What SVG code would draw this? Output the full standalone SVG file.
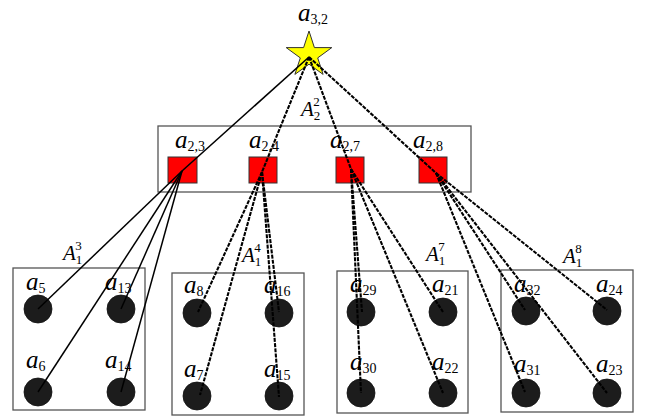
<svg xmlns="http://www.w3.org/2000/svg" width="647" height="418" viewBox="0 0 647 418">
<style>
.box{fill:none;stroke:#555;stroke-width:1.3}
.sq{fill:#ff0000;stroke:#333;stroke-width:1}
.dot{fill:#1c1c1c;stroke:#111;stroke-width:0.8}
.lbl{font-family:"Liberation Serif","Times New Roman",serif;font-style:italic;font-size:25px;fill:#000}
.sub{font-style:normal;font-size:14px}
.cap{font-family:"Liberation Serif","Times New Roman",serif;font-style:italic;font-size:21px;fill:#000}
.sm{font-style:normal;font-size:13px}
.solid{stroke:#000;stroke-width:1.5;fill:none}
.dash{stroke:#000;stroke-width:2.1;stroke-dasharray:4 1.2;fill:none}
</style>
<rect width="647" height="418" fill="#fff"/>
<g id="group-top">
<rect class="box" x="158" y="126" width="313" height="66"/>
<text class="cap" x="301" y="116">A<tspan class="sm" dy="4">2</tspan><tspan class="sm" dx="-7" dy="-14">2</tspan></text>
</g>
<g id="group-A13"><rect class="box" x="13" y="268" width="132" height="142"/>
<text class="cap" x="63" y="260">A<tspan class="sm" dy="4">1</tspan><tspan class="sm" dx="-7" dy="-14">3</tspan></text></g>
<g id="group-A14"><rect class="box" x="172" y="273" width="132" height="142"/>
<text class="cap" x="242" y="262">A<tspan class="sm" dy="4">1</tspan><tspan class="sm" dx="-7" dy="-14">4</tspan></text></g>
<g id="group-A17"><rect class="box" x="337" y="271" width="131" height="142"/>
<text class="cap" x="426" y="261">A<tspan class="sm" dy="4">1</tspan><tspan class="sm" dx="-7" dy="-14">7</tspan></text></g>
<g id="group-A18"><rect class="box" x="501" y="270" width="132" height="142"/>
<text class="cap" x="563" y="263">A<tspan class="sm" dy="4">1</tspan><tspan class="sm" dx="-7" dy="-14">8</tspan></text></g>

<g id="a32node">
<polygon points="309,31 314.4,47.6 331.8,47.6 317.7,57.9 323.1,74.4 309,64.2 294.9,74.4 300.3,57.9 286.2,47.6 303.6,47.6" fill="#ffff00" stroke="#333" stroke-width="1"/>
<text class="lbl" x="298" y="21">a<tspan class="sub" dy="3">3,2</tspan></text>
</g>

<g id="a23node"><rect class="sq" x="168" y="157" width="29" height="26"/><text class="lbl" x="175" y="148">a<tspan class="sub" dy="3">2,3</tspan></text></g>
<g id="a24node"><rect class="sq" x="249" y="157" width="28" height="26"/><text class="lbl" x="249" y="148">a<tspan class="sub" dy="3">2,4</tspan></text></g>
<g id="a27node"><rect class="sq" x="336" y="157" width="28" height="26"/><text class="lbl" x="330" y="148">a<tspan class="sub" dy="3">2,7</tspan></text></g>
<g id="a28node"><rect class="sq" x="419" y="157" width="28" height="26"/><text class="lbl" x="413" y="148">a<tspan class="sub" dy="3">2,8</tspan></text></g>

<g id="a5node"><circle class="dot" cx="38" cy="309" r="14"/><text class="lbl" x="26" y="290">a<tspan class="sub" dy="3">5</tspan></text></g>
<g id="a13node"><circle class="dot" cx="121" cy="309" r="14"/><text class="lbl" x="105" y="290">a<tspan class="sub" dy="3">13</tspan></text></g>
<g id="a6node"><circle class="dot" cx="38" cy="392" r="14"/><text class="lbl" x="26" y="368">a<tspan class="sub" dy="3">6</tspan></text></g>
<g id="a14node"><circle class="dot" cx="121" cy="392" r="14"/><text class="lbl" x="105" y="368">a<tspan class="sub" dy="3">14</tspan></text></g>

<g id="a8node"><circle class="dot" cx="197" cy="313" r="14"/><text class="lbl" x="184" y="293">a<tspan class="sub" dy="3">8</tspan></text></g>
<g id="a16node"><circle class="dot" cx="279" cy="313" r="14"/><text class="lbl" x="264" y="293">a<tspan class="sub" dy="3">16</tspan></text></g>
<g id="a7node"><circle class="dot" cx="197" cy="396" r="14"/><text class="lbl" x="184" y="377">a<tspan class="sub" dy="3">7</tspan></text></g>
<g id="a15node"><circle class="dot" cx="279" cy="396" r="14"/><text class="lbl" x="264" y="377">a<tspan class="sub" dy="3">15</tspan></text></g>

<g id="a29node"><circle class="dot" cx="361" cy="312" r="14"/><text class="lbl" x="350" y="292">a<tspan class="sub" dy="3">29</tspan></text></g>
<g id="a21node"><circle class="dot" cx="443" cy="312" r="14"/><text class="lbl" x="432" y="292">a<tspan class="sub" dy="3">21</tspan></text></g>
<g id="a30node"><circle class="dot" cx="361" cy="393" r="14"/><text class="lbl" x="350" y="370">a<tspan class="sub" dy="3">30</tspan></text></g>
<g id="a22node"><circle class="dot" cx="443" cy="393" r="14"/><text class="lbl" x="432" y="370">a<tspan class="sub" dy="3">22</tspan></text></g>

<g id="a32bnode"><circle class="dot" cx="526" cy="311" r="14"/><text class="lbl" x="514" y="292">a<tspan class="sub" dy="3">32</tspan></text></g>
<g id="a24bnode"><circle class="dot" cx="607" cy="311" r="14"/><text class="lbl" x="596" y="292">a<tspan class="sub" dy="3">24</tspan></text></g>
<g id="a31node"><circle class="dot" cx="526" cy="393" r="14"/><text class="lbl" x="514" y="372">a<tspan class="sub" dy="3">31</tspan></text></g>
<g id="a23bnode"><circle class="dot" cx="607" cy="393" r="14"/><text class="lbl" x="596" y="372">a<tspan class="sub" dy="3">23</tspan></text></g>

<g id="connectors">
<line class="solid" x1="309" y1="57" x2="182" y2="171"/>
<line class="dash" x1="309" y1="57" x2="262" y2="172"/>
<line class="dash" x1="309" y1="57" x2="351" y2="169"/>
<line class="dash" x1="309" y1="57" x2="436" y2="173"/>

<line class="solid" x1="182" y1="171" x2="38" y2="309"/>
<line class="solid" x1="182" y1="171" x2="121" y2="309"/>
<line class="solid" x1="182" y1="171" x2="38" y2="392"/>
<line class="solid" x1="182" y1="171" x2="121" y2="392"/>

<line class="dash" x1="262" y1="172" x2="198" y2="312"/>
<line class="dash" x1="262" y1="172" x2="200" y2="395"/>
<line class="dash" x1="262" y1="172" x2="279" y2="312"/>
<line class="dash" x1="262" y1="172" x2="279" y2="397"/>

<line class="dash" x1="351" y1="169" x2="362" y2="312"/>
<line class="dash" x1="351" y1="169" x2="361" y2="393"/>
<line class="dash" x1="351" y1="169" x2="443" y2="312"/>
<line class="dash" x1="351" y1="169" x2="443" y2="393"/>

<line class="dash" x1="436" y1="173" x2="525" y2="310"/>
<line class="dash" x1="436" y1="173" x2="525" y2="392"/>
<line class="dash" x1="436" y1="173" x2="607" y2="310"/>
<line class="dash" x1="436" y1="173" x2="607" y2="393"/>
</g>
</svg>
